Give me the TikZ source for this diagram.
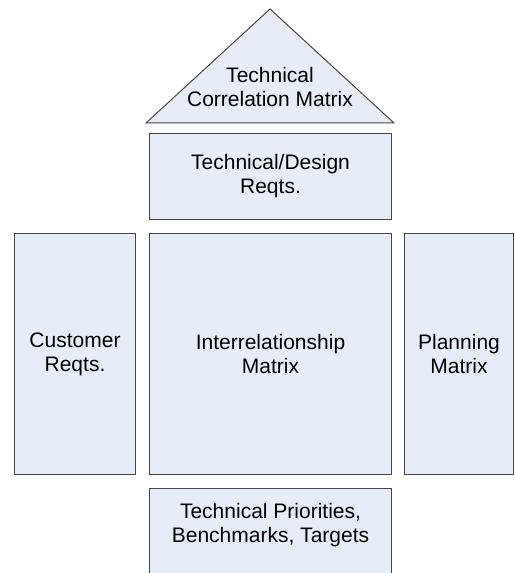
\documentclass[tikz,border=0pt]{standalone}
\usepackage{fontspec}
\setmainfont{Liberation Sans}
\definecolor{boxfill}{RGB}{231,237,247}
\definecolor{boxline}{RGB}{70,70,70}
\begin{document}
\begin{tikzpicture}[x=1bp, y=-1bp, line width=1bp,
  box/.style={rectangle,draw=boxline,fill=boxfill,inner sep=0pt,align=center,font=\fontsize{21bp}{24bp}\selectfont},
  label text/.style={inner sep=0pt,align=center,font=\fontsize{21bp}{24bp}\selectfont}]
\path[use as bounding box, clip] (0,0) rectangle (515,573);
% roof
\coordinate (roofL) at (146,123);
\coordinate (roofT) at (270,9);
\coordinate (roofR) at (394,123);
\draw[draw=boxline, fill=boxfill] (roofL) -- (roofT) -- (roofR) -- cycle;
\node[label text] (corr) at (270,87) {Technical\\Correlation Matrix};
% rooms
\node[box, minimum width=243, minimum height=87] (tech) at (270.5,176.5) {Technical/Design\\Reqts.};
\node[box, minimum width=122, minimum height=242] (cust) at (75,354) {Customer\\Reqts.};
\node[box, minimum width=243, minimum height=242] (inter) at (270.5,354) {Interrelationship\\Matrix};
\node[box, minimum width=110, minimum height=242] (plan) at (459,354) {Planning\\Matrix};
% basement
\node[box, minimum width=243, minimum height=144] (prio) at (270.5,560) {};
\node[label text] (priotext) at (270.5,525) {Technical Priorities,\\Benchmarks, Targets};
\end{tikzpicture}
\end{document}
